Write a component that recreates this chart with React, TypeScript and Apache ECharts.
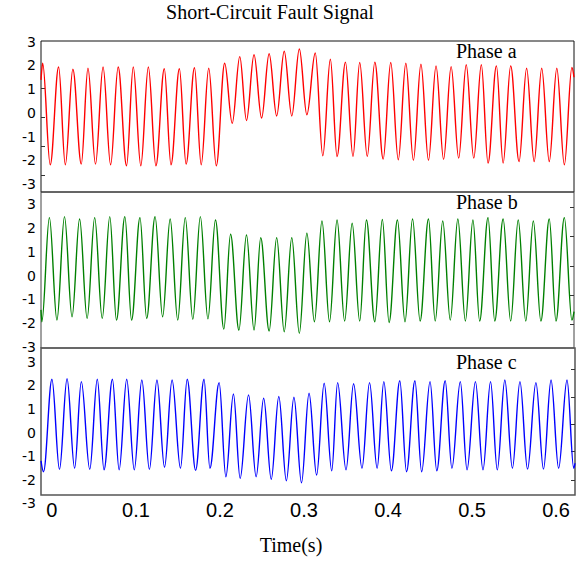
import React, { useEffect, useRef } from "react";
import * as echarts from "echarts";

// ---------- axis tick labels ----------
const timeTicks = [0, 0.1, 0.2, 0.3, 0.4, 0.5, 0.6];
const ampLabelMin = -3;
const ampLabelMax = 3;

// ---------- Phase a (extremes) ----------
const phaseAPeakT = [-0.011, 0.008, 0.025, 0.043, 0.061, 0.079, 0.097, 0.115, 0.134, 0.152, 0.17, 0.187, 0.206, 0.224, 0.241, 0.259, 0.277, 0.295, 0.314, 0.332, 0.35, 0.367, 0.385, 0.404, 0.422, 0.44, 0.458, 0.476, 0.494, 0.512, 0.53, 0.547, 0.566, 0.584, 0.602, 0.62];
const phaseAPeakV = [2.09, 1.93, 1.84, 1.88, 1.93, 1.93, 1.93, 1.93, 1.86, 1.86, 1.9, 1.88, 2.09, 2.37, 2.45, 2.49, 2.6, 2.69, 2.52, 2.26, 2.14, 2.12, 2.14, 2.12, 2.09, 2.05, 1.98, 1.95, 2.03, 2.03, 1.98, 1.98, 1.88, 1.88, 1.88, 1.91];
const phaseATroughT = [-0.002, 0.016, 0.035, 0.052, 0.07, 0.089, 0.106, 0.124, 0.142, 0.16, 0.178, 0.196, 0.215, 0.232, 0.25, 0.268, 0.286, 0.304, 0.323, 0.34, 0.359, 0.376, 0.395, 0.413, 0.431, 0.449, 0.467, 0.485, 0.503, 0.52, 0.538, 0.557, 0.575, 0.593, 0.611];
const phaseATroughV = [-2.19, -2.19, -2.16, -2.16, -2.19, -2.23, -2.23, -2.23, -2.19, -2.16, -2.19, -2.23, -0.44, -0.32, -0.22, -0.13, -0.13, -0.08, -1.81, -1.84, -1.84, -1.84, -1.95, -1.98, -2.0, -2.0, -1.96, -1.91, -1.91, -2.12, -2.12, -2.05, -2.05, -2.05, -2.19];
const phaseAEdgeT = [-0.013, 0.6225];
const phaseAEdgeV = [1.39, 1.5];

// ---------- Phase b ----------
const phaseBPeakT = [-0.003, 0.015, 0.033, 0.051, 0.069, 0.087, 0.105, 0.123, 0.141, 0.159, 0.177, 0.195, 0.213, 0.232, 0.249, 0.268, 0.286, 0.304, 0.322, 0.34, 0.358, 0.375, 0.394, 0.412, 0.43, 0.449, 0.466, 0.484, 0.502, 0.52, 0.538, 0.556, 0.574, 0.593, 0.611];
const phaseBPeakV = [2.44, 2.48, 2.38, 2.44, 2.48, 2.48, 2.44, 2.48, 2.38, 2.44, 2.48, 2.34, 1.74, 1.71, 1.59, 1.59, 1.59, 1.78, 2.3, 2.34, 2.2, 2.34, 2.36, 2.34, 2.38, 2.38, 2.3, 2.38, 2.34, 2.44, 2.38, 2.34, 2.3, 2.38, 2.44];
const phaseBTroughT = [-0.012, 0.006, 0.024, 0.042, 0.06, 0.077, 0.095, 0.113, 0.132, 0.15, 0.168, 0.186, 0.205, 0.223, 0.241, 0.259, 0.277, 0.295, 0.313, 0.331, 0.349, 0.367, 0.385, 0.402, 0.421, 0.439, 0.457, 0.475, 0.493, 0.51, 0.528, 0.547, 0.565, 0.583, 0.601, 0.62];
const phaseBTroughV = [-1.95, -1.88, -1.74, -1.81, -1.81, -1.88, -1.88, -1.81, -1.74, -1.88, -1.85, -1.83, -2.26, -2.3, -2.3, -2.34, -2.37, -2.44, -1.95, -1.95, -1.92, -1.92, -1.95, -1.98, -1.95, -1.92, -1.92, -1.88, -1.92, -1.92, -1.92, -1.92, -1.92, -1.92, -1.92, -1.88];
const phaseBEdgeT = [-0.013, 0.6225];
const phaseBEdgeV = [-1.45, -1.52];

// ---------- Phase c ----------
const phaseCPeakT = [0.0, 0.018, 0.035, 0.054, 0.072, 0.089, 0.107, 0.125, 0.143, 0.161, 0.181, 0.199, 0.216, 0.234, 0.252, 0.27, 0.288, 0.306, 0.324, 0.34, 0.359, 0.378, 0.395, 0.414, 0.432, 0.45, 0.468, 0.486, 0.504, 0.522, 0.539, 0.557, 0.576, 0.594, 0.613];
const phaseCPeakV = [2.25, 2.27, 2.15, 2.25, 2.25, 2.25, 2.22, 2.22, 2.22, 2.25, 2.25, 2.11, 1.63, 1.59, 1.45, 1.52, 1.49, 1.66, 2.08, 2.11, 2.06, 2.11, 2.15, 2.19, 2.19, 2.15, 2.19, 2.15, 2.15, 2.15, 2.22, 2.15, 2.11, 2.22, 2.22];
const phaseCTroughT = [-0.01, 0.009, 0.027, 0.045, 0.062, 0.08, 0.098, 0.116, 0.134, 0.153, 0.171, 0.188, 0.207, 0.224, 0.243, 0.261, 0.279, 0.297, 0.315, 0.333, 0.35, 0.369, 0.387, 0.404, 0.422, 0.44, 0.458, 0.476, 0.494, 0.513, 0.53, 0.548, 0.566, 0.585, 0.603, 0.621];
const phaseCTroughV = [-1.66, -1.56, -1.51, -1.56, -1.58, -1.58, -1.58, -1.56, -1.47, -1.51, -1.6, -1.51, -1.87, -1.94, -1.87, -1.98, -2.04, -2.13, -1.8, -1.62, -1.58, -1.51, -1.51, -1.62, -1.66, -1.66, -1.62, -1.51, -1.58, -1.58, -1.58, -1.51, -1.55, -1.55, -1.51, -1.51];
const phaseCEdgeT = [-0.013, 0.6225];
const phaseCEdgeV = [-1.2, -1.3];

// ---------- small tick marks seen on the frames ----------
const phaseATickValues = [1.035, -0.188, -1.427, -2.65];
const phaseBTickValues = [2.86, 1.64, 0.4, -0.82, -2.05];
const phaseCTickValues = [2.67, 1.51, 0.35, -0.81, -2.01];

function buildWave(
  pt: number[], pv: number[], tt: number[], tv: number[], et: number[], ev: number[]
): number[][] {
  const pts: number[][] = [];
  pt.forEach((t, i) => pts.push([t, pv[i]]));
  tt.forEach((t, i) => pts.push([t, tv[i]]));
  et.forEach((t, i) => pts.push([t, ev[i]]));
  pts.sort((a, b) => a[0] - b[0]);
  return pts;
}

export default function App() {
  const ref = useRef<HTMLDivElement>(null);

  useEffect(() => {
    if (!ref.current) return;
    const chart = echarts.init(ref.current, undefined, { renderer: "svg" });

    const waveA = buildWave(phaseAPeakT, phaseAPeakV, phaseATroughT, phaseATroughV, phaseAEdgeT, phaseAEdgeV);
    const waveB = buildWave(phaseBPeakT, phaseBPeakV, phaseBTroughT, phaseBTroughV, phaseBEdgeT, phaseBEdgeV);
    const waveC = buildWave(phaseCPeakT, phaseCPeakV, phaseCTroughT, phaseCTroughV, phaseCEdgeT, phaseCEdgeV);

    const tMin = -0.013;
    const tMax = 0.6225;

    const dataGrid = (top: number, height: number, width: number, color: string, bw: number) => ({
      left: 41, top, width, height, show: true, borderColor: color, borderWidth: bw,
      backgroundColor: "transparent",
    });
    const labelGrid = (top: number, height: number) => ({
      left: 41, top, width: 20, height, show: false,
    });

    const dataX = (idx: number, showLabels: boolean) => ({
      type: "value", gridIndex: idx, min: tMin, max: tMax,
      axisLine: { show: false }, splitLine: { show: false },
      axisTick: { show: false },
      axisLabel: showLabels
        ? { show: true, customValues: timeTicks, fontSize: 20, fontFamily: "Liberation Sans, Arial", color: "#000", margin: 5 }
        : { show: false },
    });
    const hiddenX = (idx: number) => ({
      type: "value", gridIndex: idx, min: 0, max: 1, show: false,
    });

    const dataY = (idx: number, min: number, max: number, pos: string, ticks: number[]) => ({
      type: "value", gridIndex: idx, min, max, position: pos,
      axisLine: { show: false, onZero: false }, splitLine: { show: false },
      axisLabel: { show: false },
      axisTick: { show: true, inside: true, length: 4, customValues: ticks, lineStyle: { color: "#333" } },
    });
    const labelY = (idx: number) => ({
      type: "value", gridIndex: idx, min: ampLabelMin, max: ampLabelMax, interval: 1,
      axisLine: { show: false }, splitLine: { show: false }, axisTick: { show: false },
      axisLabel: { show: true, fontSize: 14, fontFamily: "DejaVu Sans", color: "#000", margin: 5 },
    });

    const lineSeries = (idx: number, data: number[][], color: string, name: string) => ({
      type: "line", name, xAxisIndex: idx, yAxisIndex: idx, data,
      showSymbol: false, smooth: 0.36, smoothMonotone: "x",
      lineStyle: { color, width: 1.4 }, clip: true,
    });

    const serif = "Liberation Serif, Times New Roman, serif";
    const tStyle = { fontFamily: serif, fontWeight: "normal", fontSize: 20, color: "#000" };

    chart.setOption({
      animation: false,
      backgroundColor: "#fff",
      title: [
        { text: "Short-Circuit Fault Signal", left: 270, top: 2, textAlign: "center", padding: 0, textStyle: tStyle },
        { text: "Phase a", left: 456, top: 41, padding: 0, textStyle: tStyle },
        { text: "Phase b", left: 456, top: 192, padding: 0, textStyle: tStyle },
        { text: "Phase c", left: 456, top: 352, padding: 0, textStyle: tStyle },
        { text: "Time(s)", left: 291, top: 535, textAlign: "center", padding: 0, textStyle: tStyle },
      ],
      grid: [
        dataGrid(41, 151, 533, "#111", 1),
        dataGrid(192, 156, 533, "#444", 1),
        dataGrid(348, 147, 534, "#555", 1.5),
        labelGrid(41.7, 142.3),
        labelGrid(204.3, 142.4),
        labelGrid(361.7, 141.6),
      ],
      xAxis: [
        dataX(0, false), dataX(1, false), dataX(2, true),
        hiddenX(3), hiddenX(4), hiddenX(5),
      ],
      yAxis: [
        dataY(0, -3.337, 3.029, "left", phaseATickValues),
        dataY(1, -3.056, 3.52, "right", phaseBTickValues),
        dataY(2, -2.643, 3.573, "right", phaseCTickValues),
        labelY(3), labelY(4), labelY(5),
      ],
      series: [
        lineSeries(0, waveA, "#ff0000", "Phase a"),
        lineSeries(1, waveB, "#008000", "Phase b"),
        lineSeries(2, waveC, "#0000ff", "Phase c"),
      ],
    });

    return () => chart.dispose();
  }, []);

  return <div ref={ref} style={{ position: "absolute", left: 0, top: 0, width: 585, height: 561 }} />;
}
